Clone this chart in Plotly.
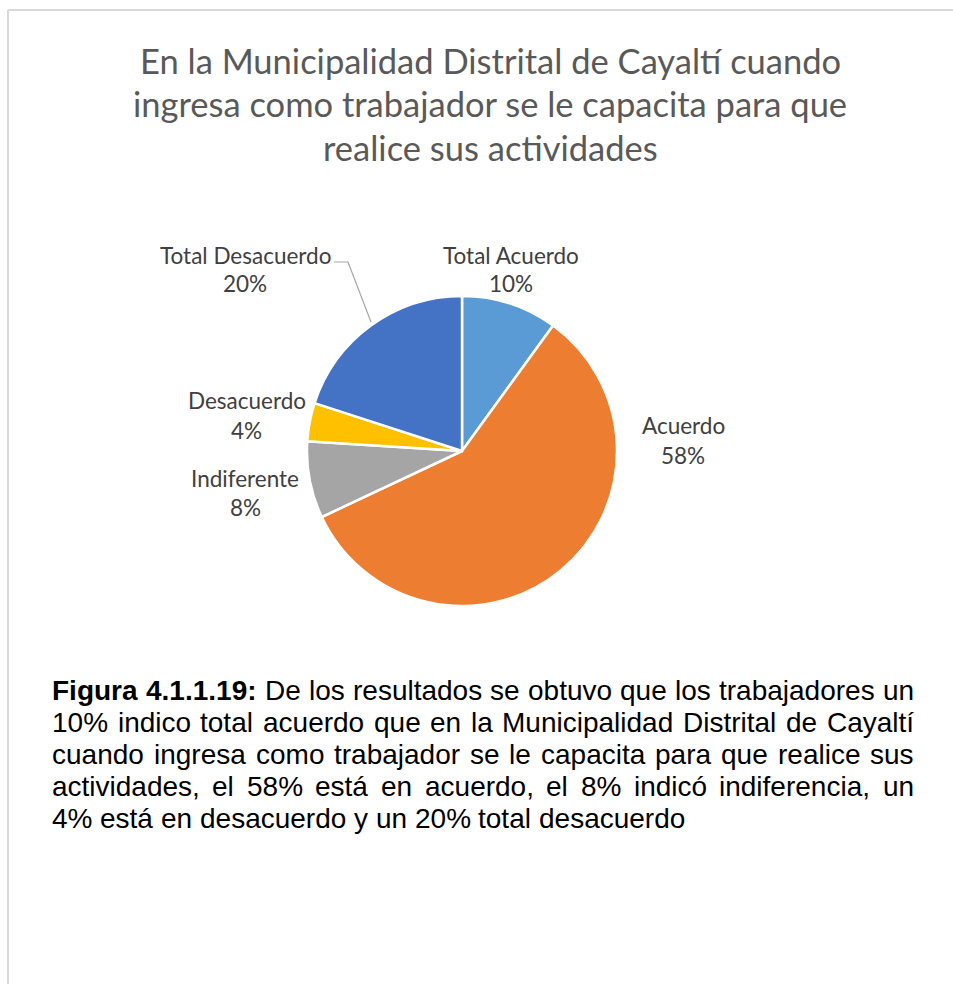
import plotly.graph_objects as go

W, H = 953, 984

# ---- data ----
labels = ["Total Acuerdo", "Acuerdo", "Indiferente", "Desacuerdo", "Total Desacuerdo"]
values = [10, 58, 8, 4, 20]
colors = ["#5B9BD5", "#ED7D31", "#A5A5A5", "#FFC000", "#4472C4"]

title_lines = [
    "En la Municipalidad Distrital de Cayaltí cuando",
    "ingresa como trabajador se le capacita para que",
    "realice sus actividades",
]
caption_bold = "Figura 4.1.1.19:"
caption_lines = [
    "De los resultados se obtuvo que los trabajadores un",
    "10% indico total acuerdo que en la Municipalidad Distrital de Cayaltí",
    "cuando ingresa como trabajador se le capacita para que realice sus",
    "actividades, el 58% está en acuerdo, el 8% indicó indiferencia, un",
    "4% está en desacuerdo y un 20% total desacuerdo",
]

# ---- layout helpers (pixel positions) ----
def px(x):
    return x / W

def py(y):
    return 1 - y / H

# Arial / Liberation Sans advance widths (per 1000 em) for justification
AR = {" ": 278, "%": 889, ",": 278, ".": 278, ":": 278,
      "A": 667, "C": 722, "D": 722, "F": 611, "M": 833,
      "a": 556, "b": 556, "c": 500, "d": 556, "e": 556, "f": 278, "g": 556,
      "h": 556, "i": 222, "j": 222, "k": 500, "l": 222, "m": 833, "n": 556,
      "o": 556, "p": 556, "q": 556, "r": 333, "s": 500, "t": 278, "u": 556,
      "v": 500, "w": 722, "x": 500, "y": 500, "z": 500,
      "á": 556, "é": 556, "í": 278, "ó": 556}
ARB = {"F": 611, "i": 278, "g": 611, "u": 611, "r": 389, "a": 556, ".": 278, ":": 333}
for d in "0123456789":
    AR[d] = 556
    ARB[d] = 556


def wtext(s, size, bold=False):
    tab = ARB if bold else AR
    return sum(tab.get(ch, 556) for ch in s) * size / 1000.0


cx, cy, r = 462, 451, 155
label_pos = {  # center x, y of first line (pixels)
    "Total Acuerdo": (511, 255),
    "Acuerdo": (683, 426),
    "Indiferente": (245, 478),
    "Desacuerdo": (247, 401),
    "Total Desacuerdo": (245, 255),
}
label_gap = 29

fig = go.Figure(go.Pie(
    labels=labels,
    values=values,
    sort=False,
    direction="clockwise",
    rotation=0,
    marker=dict(colors=colors, line=dict(color="white", width=2.5)),
    textinfo="none",
    hoverinfo="label+percent",
    showlegend=False,
    domain=dict(x=[px(cx - r), px(cx + r)], y=[py(cy + r), py(cy - r)]),
))

annotations = []
total = sum(values)
label_font = dict(family="Lato, Calibri, sans-serif", size=22.5, color="#404040")
for lab, val in zip(labels, values):
    x, y = label_pos[lab]
    pct = f"{round(100 * val / total)}%"
    for i, t in enumerate([lab, pct]):
        annotations.append(dict(
            x=px(x), y=py(y + i * label_gap), xref="paper", yref="paper",
            text=t, showarrow=False, xanchor="center", yanchor="middle",
            font=label_font,
        ))

title_font = dict(family="Lato, Calibri, sans-serif", size=34.5, color="#595959")
for i, t in enumerate(title_lines):
    annotations.append(dict(
        x=px(490), y=py(60 + i * 43.5), xref="paper", yref="paper",
        text=t, showarrow=False, xanchor="center", yanchor="middle",
        font=title_font,
    ))

# caption: justified lines (last line left aligned)
CAP_SIZE = 28
cap_font = dict(family="Liberation Sans, Arial, sans-serif", size=CAP_SIZE, color="#000000")
left, right = 50, 912
for i, line in enumerate(caption_lines):
    words = [(w, False) for w in line.split(" ")]
    if i == 0:
        words = [(w, True) for w in caption_bold.split(" ")] + words
    ypix = 690 + i * 32
    widths = [wtext(w, CAP_SIZE, b) for w, b in words]
    if i < len(caption_lines) - 1:
        gap = (right - left - sum(widths)) / (len(words) - 1)
    else:
        gap = wtext(" ", CAP_SIZE)
    xcur = left
    for (w, b), wd in zip(words, widths):
        annotations.append(dict(
            x=px(xcur), y=py(ypix), xref="paper", yref="paper",
            text=f"<b>{w}</b>" if b else w, showarrow=False,
            xanchor="left", yanchor="middle", font=cap_font,
        ))
        xcur += wd + gap

shapes = [
    # outer border (top and left)
    dict(type="line", xref="paper", yref="paper", x0=px(8), x1=1, y0=py(10), y1=py(10),
         line=dict(color="#D9D9D9", width=2)),
    dict(type="line", xref="paper", yref="paper", x0=px(8), x1=px(8), y0=py(10), y1=0,
         line=dict(color="#D9D9D9", width=2)),
    # leader line for Total Desacuerdo
    dict(type="path", xref="paper", yref="paper",
         path=f"M {px(334)} {py(262)} L {px(348)} {py(262)} L {px(371)} {py(322)}",
         line=dict(color="#A6A6A6", width=1.2)),
]

fig.update_layout(
    width=W, height=H,
    margin=dict(l=0, r=0, t=0, b=0),
    paper_bgcolor="white",
    plot_bgcolor="white",
    annotations=annotations,
    shapes=shapes,
)

fig.write_html("out.html")
